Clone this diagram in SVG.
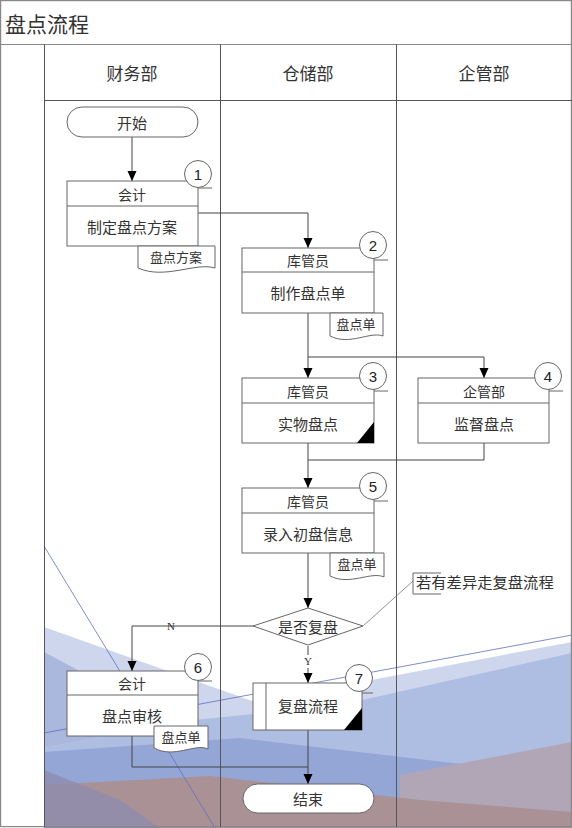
<svg xmlns="http://www.w3.org/2000/svg" width="572" height="828" viewBox="0 0 572 828">
<style>
.t{font-family:"Noto Sans CJK SC","Noto Sans",sans-serif;fill:#333;text-anchor:middle;dominant-baseline:central}
.h{font-size:17px}
.r{font-size:14px}
.m{font-size:15px}
.d{font-size:13px}
.num{font-family:"Liberation Sans",Arial,sans-serif;font-size:15px;fill:#222;text-anchor:middle;dominant-baseline:central}
.yn{font-family:"Liberation Serif",serif;font-size:11px;fill:#333;text-anchor:middle;dominant-baseline:central}
.box{fill:#fff;stroke:#666;stroke-width:1}
.sl{stroke:#666;stroke-width:1;fill:none}
.lane{stroke:#555;stroke-width:1;fill:none}
.frame{stroke:#888;stroke-width:1.2;fill:none}
.c{stroke:#444;stroke-width:1;fill:none}
.cir{fill:#fff;stroke:#666;stroke-width:1}
.tri{fill:#000}
</style>
<defs>
<marker id="arr" markerUnits="userSpaceOnUse" markerWidth="10" markerHeight="10" refX="10" refY="5" orient="auto">
<path d="M0,0.5 L10,5 L0,9.5 z" fill="#000"/>
</marker>
</defs>

<rect x="0" y="0" width="572" height="828" fill="#fff"/>

<g id="background">
<polygon points="44,627 255,702 572,642 572,828 44,828" fill="#cdd6ed"/>
<polygon points="44,652 175,722 44,748" fill="#abb8dd"/>
<polygon points="175,722 340,705 572,653 572,828 44,828 44,748" fill="#aebde2"/>
<polygon points="44,752 240,738 470,765 572,790 572,828 44,828" fill="#94a6d5"/>
<polygon points="400,775 572,742 572,828 400,828" fill="#b1a6b6"/>
<polygon points="44,785 210,776 420,800 572,812 572,828 44,828" fill="#a99196"/>
<polygon points="44,770 120,800 160,828 44,828" fill="#8e8cae" fill-opacity="0.8"/>
<line x1="44" y1="546" x2="215" y2="828" stroke="#5f6fc0" stroke-width="0.8"/>
<line x1="44" y1="733" x2="572" y2="635" stroke="#5f6fc0" stroke-width="0.8"/>
</g>

<g id="lanes">
<rect class="frame" x="0.6" y="0.6" width="570.8" height="826"/>
<line class="frame" x1="0" y1="44.5" x2="572" y2="44.5"/>
<line class="lane" x1="44.5" y1="44.5" x2="44.5" y2="827"/>
<line class="lane" x1="44.5" y1="100.5" x2="572" y2="100.5"/>
<line class="lane" x1="220.5" y1="44.5" x2="220.5" y2="827"/>
<line class="lane" x1="396.5" y1="44.5" x2="396.5" y2="827"/>
<text class="t" x="5" y="23" style="text-anchor:start;font-size:21px">盘点流程</text>
<text class="t h" x="132" y="72">财务部</text>
<text class="t h" x="308" y="72">仓储部</text>
<text class="t h" x="484" y="72">企管部</text>
</g>

<g id="connectors">
<path class="c" d="M132,137 V181" marker-end="url(#arr)"/>
<path class="c" d="M198,213 H308 V248" marker-end="url(#arr)"/>
<path class="c" d="M308,313 V378" marker-end="url(#arr)"/>
<path class="c" d="M308,357 H484 V378" marker-end="url(#arr)"/>
<path class="c" d="M308,443 V488" marker-end="url(#arr)"/>
<path class="c" d="M484,443 V460 H308"/>
<path class="c" d="M308,553 V608" marker-end="url(#arr)"/>
<path class="c" d="M253,626 H132 V671" marker-end="url(#arr)"/>
<path class="c" d="M308,646 V683" marker-end="url(#arr)"/>
<path class="c" d="M132,736 V767 H308"/>
<path class="c" d="M308,730 V784" marker-end="url(#arr)"/>
<line x1="363" y1="626" x2="413" y2="581" stroke="#777" stroke-width="0.8"/>
<rect x="158" y="619" width="24" height="14" fill="#fff" fill-opacity="0"/>
<text class="yn" x="171" y="626">N</text>
<rect x="303" y="655" width="10" height="13" fill="#fff"/>
<text class="yn" x="308" y="661">Y</text>
</g>

<g id="start">
<rect class="box" x="67" y="107" width="131" height="30" rx="15"/>
<text class="t m" x="132" y="122">开始</text>
</g>

<g id="n1">
<rect class="box" x="67" y="181" width="131" height="65"/>
<line class="sl" x1="67" y1="206" x2="198" y2="206"/>
<text class="t r" x="132" y="193.5">会计</text>
<text class="t m" x="132" y="226">制定盘点方案</text>
<line class="sl" x1="198" y1="188" x2="212" y2="188"/>
<circle class="cir" cx="198" cy="174" r="13.5"/>
<text class="num" x="198" y="174">1</text>
<path class="box" d="M138,246 H215 V268 C195,262 165,280 138,268 Z"/>
<text class="t d" x="176" y="256">盘点方案</text>
</g>

<g id="n2">
<rect class="box" x="242" y="248" width="132" height="65"/>
<line class="sl" x1="242" y1="272" x2="374" y2="272"/>
<text class="t r" x="308" y="260">库管员</text>
<text class="t m" x="308" y="292">制作盘点单</text>
<line class="sl" x1="374" y1="260" x2="388" y2="260"/>
<circle class="cir" cx="373" cy="245" r="13.5"/>
<text class="num" x="373" y="245">2</text>
<path class="box" d="M330,313 H383 V336 C370,331 350,346 330,336 Z"/>
<text class="t d" x="356" y="323">盘点单</text>
</g>

<g id="n3">
<rect class="box" x="242" y="378" width="132" height="65"/>
<line class="sl" x1="242" y1="403" x2="374" y2="403"/>
<text class="t r" x="308" y="390.5">库管员</text>
<text class="t m" x="308" y="423">实物盘点</text>
<polygon class="tri" points="357,443 374,443 374,422"/>
<line class="sl" x1="374" y1="391" x2="388" y2="391"/>
<circle class="cir" cx="373" cy="376" r="13.5"/>
<text class="num" x="373" y="376">3</text>
</g>

<g id="n4">
<rect class="box" x="418" y="378" width="131" height="65"/>
<line class="sl" x1="418" y1="403" x2="549" y2="403"/>
<text class="t r" x="484" y="390.5">企管部</text>
<text class="t m" x="484" y="423">监督盘点</text>
<line class="sl" x1="549" y1="391" x2="563" y2="391"/>
<circle class="cir" cx="548" cy="376" r="13.5"/>
<text class="num" x="548" y="376">4</text>
</g>

<g id="n5">
<rect class="box" x="242" y="488" width="132" height="65"/>
<line class="sl" x1="242" y1="513" x2="374" y2="513"/>
<text class="t r" x="308" y="500.5">库管员</text>
<text class="t m" x="308" y="533">录入初盘信息</text>
<line class="sl" x1="374" y1="501" x2="388" y2="501"/>
<circle class="cir" cx="373" cy="486" r="13.5"/>
<text class="num" x="373" y="486">5</text>
<path class="box" d="M330,553 H384 V577 C371,571 350,586 330,576 Z"/>
<text class="t d" x="357" y="563">盘点单</text>
</g>

<g id="decision">
<polygon class="box" points="253,626 308,608 363,626 308,645"/>
<text class="t m" x="308" y="626">是否复盘</text>
</g>

<g id="note">
<path class="sl" d="M441,573 H413 V594 H441" stroke="#666"/>
<text class="t" x="416" y="581" style="text-anchor:start;font-size:15.3px">若有差异走复盘流程</text>
</g>

<g id="n6">
<rect class="box" x="67" y="671" width="131" height="65"/>
<line class="sl" x1="67" y1="695" x2="198" y2="695"/>
<text class="t r" x="132" y="683">会计</text>
<text class="t m" x="132" y="715">盘点审核</text>
<line class="sl" x1="198" y1="681" x2="212" y2="681"/>
<circle class="cir" cx="198" cy="667" r="13.5"/>
<text class="num" x="198" y="667">6</text>
<path class="box" d="M154,726 H208 V749 C195,743 174,759 154,748 Z"/>
<text class="t d" x="181" y="736">盘点单</text>
</g>

<g id="n7">
<rect class="box" x="253" y="683" width="109" height="47"/>
<line class="sl" x1="266" y1="683" x2="266" y2="730"/>
<text class="t m" x="308" y="705">复盘流程</text>
<polygon class="tri" points="344,730 362,730 362,708"/>
<line class="sl" x1="362" y1="693" x2="373" y2="693"/>
<circle class="cir" cx="359" cy="678" r="13.5"/>
<text class="num" x="359" y="678">7</text>
</g>

<g id="end">
<rect class="box" x="243" y="784" width="131" height="29" rx="14.5"/>
<text class="t m" x="308" y="798.5">结束</text>
</g>
</svg>
